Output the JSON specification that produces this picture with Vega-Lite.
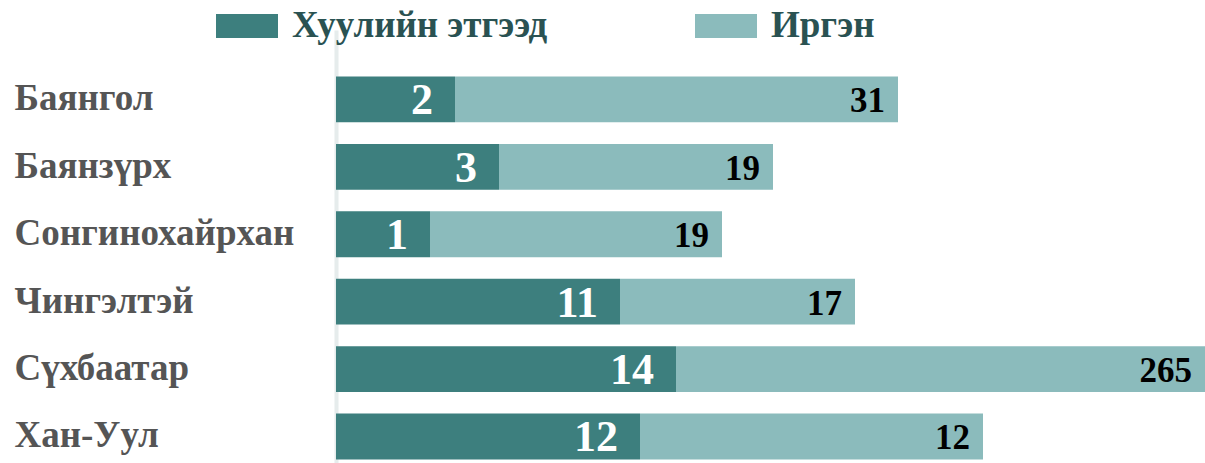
{
  "$schema": "https://vega.github.io/schema/vega-lite/v6.json",
  "width": 869,
  "height": 433,
  "autosize": "none",
  "padding": {"left": 336, "top": 30, "right": 0, "bottom": 0},
  "background": "white",
  "config": {"view": {"stroke": null}},
  "data": {
    "values": [
      {"district": "Баянгол", "type": "Хуулийн этгээд", "ord": 1, "len": 119, "label": "2"},
      {"district": "Баянгол", "type": "Иргэн", "ord": 2, "len": 443, "label": "31"},
      {"district": "Баянзүрх", "type": "Хуулийн этгээд", "ord": 1, "len": 163, "label": "3"},
      {"district": "Баянзүрх", "type": "Иргэн", "ord": 2, "len": 274, "label": "19"},
      {"district": "Сонгинохайрхан", "type": "Хуулийн этгээд", "ord": 1, "len": 94, "label": "1"},
      {"district": "Сонгинохайрхан", "type": "Иргэн", "ord": 2, "len": 292, "label": "19"},
      {"district": "Чингэлтэй", "type": "Хуулийн этгээд", "ord": 1, "len": 284, "label": "11"},
      {"district": "Чингэлтэй", "type": "Иргэн", "ord": 2, "len": 235, "label": "17"},
      {"district": "Сүхбаатар", "type": "Хуулийн этгээд", "ord": 1, "len": 340, "label": "14"},
      {"district": "Сүхбаатар", "type": "Иргэн", "ord": 2, "len": 529, "label": "265"},
      {"district": "Хан-Уул", "type": "Хуулийн этгээд", "ord": 1, "len": 304, "label": "12"},
      {"district": "Хан-Уул", "type": "Иргэн", "ord": 2, "len": 343, "label": "12"}
    ]
  },
  "transform": [
    {"stack": "len", "groupby": ["district"], "sort": [{"field": "ord"}], "as": ["x0", "x1"]}
  ],
  "encoding": {
    "y": {
      "field": "district",
      "type": "nominal",
      "sort": ["Баянгол", "Баянзүрх", "Сонгинохайрхан", "Чингэлтэй", "Сүхбаатар", "Хан-Уул"],
      "scale": {"paddingInner": 0.32, "paddingOuter": 0.372, "align": 0.928},
      "axis": {
        "title": null,
        "ticks": false,
        "tickSize": 0,
        "labelAlign": "left",
        "labelPadding": 322,
        "labelFont": "Liberation Serif",
        "labelFontWeight": "bold",
        "labelFontSize": 37,
        "labelColor": "#555555",
        "labelLimit": 400,
        "domainColor": "#e6ecec",
        "domainWidth": 4
      }
    }
  },
  "layer": [
    {
      "mark": {"type": "bar", "cornerRadius": 0},
      "encoding": {
        "x": {"field": "x0", "type": "quantitative", "scale": {"domain": [0, 869], "nice": false}, "axis": null},
        "x2": {"field": "x1"},
        "color": {
          "field": "type",
          "type": "nominal",
          "sort": ["Хуулийн этгээд", "Иргэн"],
          "scale": {"domain": ["Хуулийн этгээд", "Иргэн"], "range": ["#3d7f7e", "#8bbbbc"]},
          "legend": {
            "title": null,
            "orient": "none",
            "legendX": -120,
            "legendY": -35,
            "direction": "horizontal",
            "columns": 2,
            "columnPadding": 147,
            "padding": 0,
            "symbolType": "M-1,-0.39H1V0.39H-1Z",
            "symbolSize": 3844,
            "symbolStrokeWidth": 0,
            "symbolOpacity": 1,
            "labelFont": "Liberation Serif",
            "labelFontWeight": "bold",
            "labelFontSize": 37,
            "labelColor": "#2a5252",
            "labelOffset": 14,
            "labelLimit": 400
          }
        }
      }
    },
    {
      "transform": [{"filter": "datum.ord == 1"}],
      "mark": {"type": "text", "align": "right", "baseline": "middle", "dx": -22, "dy": 2, "font": "Liberation Serif", "fontWeight": "bold", "fontSize": 44, "color": "white"},
      "encoding": {
        "x": {"field": "x1", "type": "quantitative"},
        "text": {"field": "label"}
      }
    },
    {
      "transform": [{"filter": "datum.ord == 2"}],
      "mark": {"type": "text", "align": "right", "baseline": "middle", "dx": -13, "dy": 2, "font": "Liberation Serif", "fontWeight": "bold", "fontSize": 35, "color": "black"},
      "encoding": {
        "x": {"field": "x1", "type": "quantitative"},
        "text": {"field": "label"}
      }
    }
  ]
}
